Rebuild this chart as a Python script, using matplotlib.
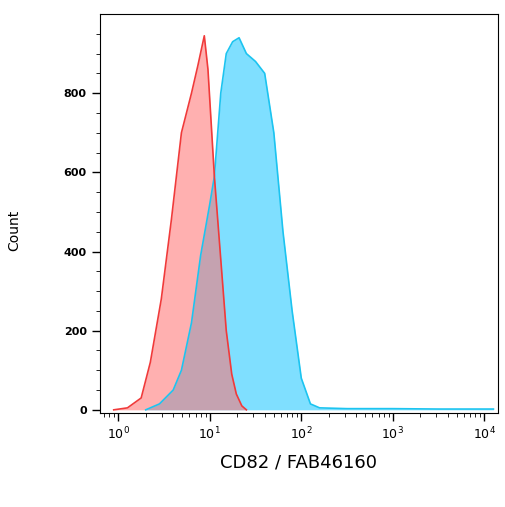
import numpy as np
import matplotlib
matplotlib.use("Agg")
import matplotlib.pyplot as plt
from matplotlib.ticker import FixedLocator, NullFormatter

red_logx = [-0.05,0.1,0.25,0.35,0.47,0.58,0.69,0.8,0.87,0.94,0.98,1.05,1.12,1.18,1.24,1.29,1.35,1.4]
red_cnt  = [0,5,30,120,280,480,700,800,870,945,860,590,380,200,90,40,10,0]
blue_logx = [0.3,0.45,0.6,0.69,0.8,0.9,1.0,1.05,1.12,1.18,1.25,1.32,1.4,1.5,1.6,1.7,1.8,1.9,2.0,2.1,2.2,2.5,3.0,3.5,4.1]
blue_cnt  = [0,15,50,100,220,390,520,590,800,900,930,940,900,880,850,700,450,250,80,15,5,3,3,2,2]
yticks = [0,200,400,600,800]

fig = plt.figure(figsize=(5.06,5.07), dpi=100)
ax = fig.add_axes([100/506, 1-413/507, 398/506, 399/507])
bx = 10**np.array(blue_logx); rx = 10**np.array(red_logx)
ax.fill_between(bx, blue_cnt, color="#7fdfff", lw=0)
ax.plot(bx, blue_cnt, color="#1cc4f0", lw=1.2)
ax.fill_between(rx, red_cnt, color="#ff7070", alpha=0.55, lw=0)
ax.plot(rx, red_cnt, color="#f03a3a", lw=1.2)
ax.set_xscale("log")
ax.set_xlim(10**-0.2, 10**4.15)
ax.set_ylim(-8, 1000)
ax.set_yticks(yticks)
ax.set_yticklabels([str(v) for v in yticks], fontsize=8, fontweight="bold")
ax.yaxis.set_minor_locator(FixedLocator(np.arange(0, 1000, 50)))
ax.tick_params(axis="both", which="major", length=6, width=1)
ax.tick_params(axis="both", which="minor", length=3)
ax.set_xticks([1,10,100,1000,10000])
ax.set_xticklabels([r"$10^0$",r"$10^1$",r"$10^2$",r"$10^3$",r"$10^4$"], fontsize=9)
ax.xaxis.set_minor_formatter(NullFormatter())
ax.set_xlabel("CD82 / FAB46160", fontsize=13, labelpad=8)
fig.text(14/506, 1-230/507, "Count", rotation=90, va="center", ha="center", fontsize=10)
fig.savefig("out.png", dpi=100)
